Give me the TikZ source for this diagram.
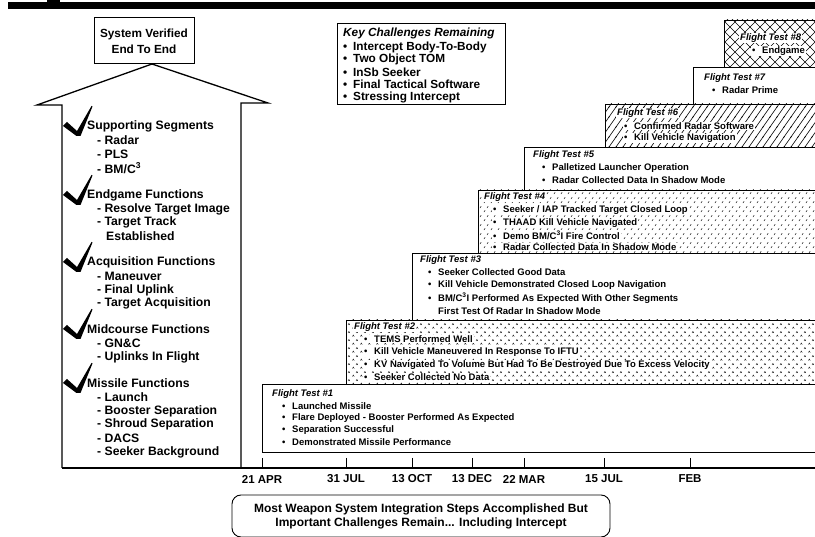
\documentclass[tikz,border=0pt]{standalone}
\usepackage{fontspec}
\setmainfont{Liberation Sans}
\usetikzlibrary{patterns}
\pgfdeclarepatternformonly{hatchsix}{\pgfqpoint{-1pt}{-1pt}}{\pgfqpoint{8pt}{11pt}}{\pgfqpoint{7pt}{10pt}}{%
  \pgfsetlinewidth{0.6pt}%
  \pgfpathmoveto{\pgfqpoint{-0.7pt}{-1pt}}\pgfpathlineto{\pgfqpoint{7.7pt}{11pt}}\pgfusepath{stroke}}
\pgfdeclarepatternformonly{xhatchten}{\pgfqpoint{-1pt}{-1pt}}{\pgfqpoint{11pt}{11pt}}{\pgfqpoint{10pt}{10pt}}{%
  \pgfsetlinewidth{0.6pt}%
  \pgfpathmoveto{\pgfqpoint{0pt}{0pt}}\pgfpathlineto{\pgfqpoint{10pt}{10pt}}%
  \pgfpathmoveto{\pgfqpoint{0pt}{10pt}}\pgfpathlineto{\pgfqpoint{10pt}{0pt}}\pgfusepath{stroke}}
\pgfdeclarepatternformonly{ticksix}{\pgfqpoint{0pt}{0pt}}{\pgfqpoint{7pt}{9pt}}{\pgfqpoint{7pt}{9pt}}{%
  \pgfsetlinewidth{0.5pt}%
  \pgfpathmoveto{\pgfqpoint{1pt}{1pt}}\pgfpathlineto{\pgfqpoint{2.4pt}{3pt}}%
  \pgfpathmoveto{\pgfqpoint{4.5pt}{5.5pt}}\pgfpathlineto{\pgfqpoint{5.9pt}{7.5pt}}\pgfusepath{stroke}}
\pgfdeclarepatternformonly{chevseven}{\pgfqpoint{0pt}{0pt}}{\pgfqpoint{8pt}{8pt}}{\pgfqpoint{8pt}{8pt}}{%
  \pgfsetlinewidth{0.45pt}%
  \pgfpathmoveto{\pgfqpoint{0.5pt}{0.5pt}}\pgfpathlineto{\pgfqpoint{1.5pt}{2.2pt}}\pgfpathlineto{\pgfqpoint{2.5pt}{0.5pt}}%
  \pgfpathmoveto{\pgfqpoint{4.5pt}{4.5pt}}\pgfpathlineto{\pgfqpoint{5.5pt}{6.2pt}}\pgfpathlineto{\pgfqpoint{6.5pt}{4.5pt}}\pgfusepath{stroke}}
\tikzset{
  lst/.style={anchor=west,inner sep=0pt,font=\fontsize{12.2}{13}\selectfont\bfseries},
  kc/.style={anchor=west,inner sep=0pt,font=\fontsize{11.8}{13}\selectfont\bfseries},
  kctitle/.style={anchor=west,inner sep=0pt,font=\fontsize{11.8}{13}\selectfont\bfseries\itshape},
  fttitle/.style={anchor=west,inner sep=1pt,font=\fontsize{9.5}{11}\selectfont\bfseries\itshape},
  ftitem/.style={anchor=west,inner sep=1pt,font=\fontsize{9.5}{11}\selectfont\bfseries},
  wbg/.style={fill=white},
  datelbl/.style={inner sep=0pt,font=\fontsize{11.5}{13}\selectfont\bfseries},
  ftbox/.style={draw=black,line width=0.9pt},
  arrowline/.style={line width=1.3pt,line join=miter},
  checkmark/.style={fill=black}
}
\newcommand{\bul}{\makebox[10pt][l]{\textbullet}}
\newcommand{\chk}[2]{\fill[checkmark] (#1-15,#2-10) -- (#1-11,#2-14) -- (#1-1,#2-5) -- (#1+13.5,#2-30) -- (#1+14.5,#2-29.5) -- (#1+2.5,#2) -- (#1-1.5,#2) -- cycle;}
\begin{document}
\begin{tikzpicture}[x=1pt,y=-1pt]
\useasboundingbox (0,0) rectangle (815,537);
\clip (0,0) rectangle (815,537);
% top bar
\fill (8,2) rectangle (815,9);
\fill (47,0) rectangle (60,3);
% flight test boxes
\draw[ftbox] (262,384) rectangle (820,452);
\draw[ftbox,pattern=chevseven] (346,320) rectangle (820,384);
\draw[ftbox] (412,253) rectangle (820,320);
\draw[ftbox,pattern=ticksix] (478,190) rectangle (820,253);
\draw[ftbox] (524,147) rectangle (820,190);
\draw[ftbox,pattern=hatchsix] (605,104) rectangle (820,147);
\draw[ftbox] (693,67) rectangle (820,104);
\draw[ftbox,pattern=xhatchten] (724,20) rectangle (820,67);
% FT1
\node[fttitle] (t1) at (271,394) {Flight Test \#1};
\node[ftitem] (t1a) at (281,406) {\bul Launched Missile};
\node[ftitem] (t1b) at (281,418) {\bul Flare Deployed - Booster Performed As Expected};
\node[ftitem] (t1c) at (281,430) {\bul Separation Successful};
\node[ftitem] (t1d) at (281,442) {\bul Demonstrated Missile Performance};
% FT2
\node[fttitle,wbg] (t2) at (353,327) {Flight Test \#2};
\node[ftitem,wbg] (t2a) at (363,339) {\bul TEMS Performed Well};
\node[ftitem,wbg] (t2b) at (363,352) {\bul Kill Vehicle Maneuvered In Response To IFTU};
\node[ftitem,wbg] (t2c) at (363,365) {\bul KV Navigated To Volume But Had To Be Destroyed Due To Excess Velocity};
\node[ftitem,wbg] (t2d) at (363,377) {\bul Seeker Collected No Data};
% FT3
\node[fttitle] (t3) at (419,260) {Flight Test \#3};
\node[ftitem] (t3a) at (427,272) {\bul Seeker Collected Good Data};
\node[ftitem] (t3b) at (427,285) {\bul Kill Vehicle Demonstrated Closed Loop Navigation};
\node[ftitem] (t3c) at (427,298) {\bul BM/C\textsuperscript{3}I Performed As Expected With Other Segments};
\node[ftitem] (t3d) at (437,311) {First Test Of Radar In Shadow Mode};
% FT4
\node[fttitle,wbg] (t4) at (483,197) {Flight Test \#4};
\node[ftitem,wbg] (t4a) at (492,210) {\bul Seeker / IAP Tracked Target Closed Loop};
\node[ftitem,wbg] (t4b) at (492,223) {\bul THAAD Kill Vehicle Navigated};
\node[ftitem,wbg] (t4c) at (492,235) {\bul Demo BM/C\textsuperscript{3}I Fire Control};
\node[ftitem,wbg] (t4d) at (492,247) {\bul Radar Collected Data In Shadow Mode};
% FT5
\node[fttitle] (t5) at (532,155) {Flight Test \#5};
\node[ftitem] (t5a) at (541,168) {\bul Palletized Launcher Operation};
\node[ftitem] (t5b) at (541,180) {\bul Radar Collected Data In Shadow Mode};
% FT6
\node[fttitle,wbg] (t6) at (616,113) {Flight Test \#6};
\node[ftitem,wbg] (t6a) at (623,126) {\bul Confirmed Radar Software};
\node[ftitem,wbg] (t6b) at (623,138) {\bul Kill Vehicle Navigation};
% FT7
\node[fttitle] (t7) at (703,78) {Flight Test \#7};
\node[ftitem] (t7a) at (711,90) {\bul Radar Prime};
% FT8
\node[fttitle,wbg] (t8) at (739,38) {Flight Test \#8};
\node[ftitem,wbg] (t8a) at (751,51) {\bul Endgame};
% arrow
\coordinate (aBL) at (62,468);
\coordinate (aL1) at (62,105);
\coordinate (aL2) at (37,105);
\coordinate (aTip) at (152,64);
\coordinate (aR2) at (268,103);
\coordinate (aR1) at (241,103);
\coordinate (aBR) at (241,468);
\coordinate (tEnd) at (815,468);
\draw[arrowline] (aBL) -- (aL1) -- (aL2) -- (aTip) -- (aR2) -- (aR1) -- (aBR);
\draw[arrowline] (aBL) -- (tEnd);
\node[draw,line width=1pt,fill=white,minimum width=100pt,minimum height=46pt,align=center,inner sep=0pt,font=\fontsize{11.8}{16}\selectfont\bfseries] (sys) at (144,41) {System Verified\\End To End};
% left list
\chk{78}{136}
\node[lst] (h1) at (87,126) {Supporting Segments};
\node[lst] (h1a) at (97,140) {- Radar};
\node[lst] (h1b) at (97,154) {- PLS};
\node[lst] (h1c) at (97,168) {- BM/C\textsuperscript{3}};
\chk{78}{205}
\node[lst] (h2) at (87,195) {Endgame Functions};
\node[lst] (h2a) at (97,209) {- Resolve Target Image};
\node[lst] (h2b) at (97,222) {- Target Track};
\node[lst] (h2c) at (106,236) {Established};
\chk{78}{272}
\node[lst] (h3) at (87,262) {Acquisition Functions};
\node[lst] (h3a) at (97,276) {- Maneuver};
\node[lst] (h3b) at (97,290) {- Final Uplink};
\node[lst] (h3c) at (97,303) {- Target Acquisition};
\chk{78}{339}
\node[lst] (h4) at (87,329) {Midcourse Functions};
\node[lst] (h4a) at (97,343) {- GN\&C};
\node[lst] (h4b) at (97,357) {- Uplinks In Flight};
\chk{78}{393}
\node[lst] (h5) at (87,383) {Missile Functions};
\node[lst] (h5a) at (97,397) {- Launch};
\node[lst] (h5b) at (97,411) {- Booster Separation};
\node[lst] (h5c) at (97,424) {- Shroud Separation};
\node[lst] (h5d) at (97,438) {- DACS};
\node[lst] (h5e) at (97,452) {- Seeker Background};
% key challenges
\draw[line width=0.9pt] (337,23) rectangle (505,104);
\node[kctitle] (kt) at (343,33) {Key Challenges Remaining};
\node[kc] (k1) at (343,47) {\bul Intercept Body-To-Body};
\node[kc] (k2) at (343,59.5) {\bul Two Object TOM};
\node[kc] (k3) at (343,72) {\bul InSb Seeker};
\node[kc] (k4) at (343,84.5) {\bul Final Tactical Software};
\node[kc] (k5) at (343,97) {\bul Stressing Intercept};
% timeline ticks and dates
\foreach \xx/\lab/\nm in {262/21 APR/d1,346/31 JUL/d2,412/13 OCT/d3,472/13 DEC/d4,524/22 MAR/d5,604/15 JUL/d6,690/FEB/d7}{
  \coordinate (\nm top) at (\xx,458);
  \coordinate (\nm bot) at (\xx,468);
  \draw[line width=0.9pt] (\nm top) -- (\nm bot);
  \node[datelbl] (\nm) at (\xx,479) {\lab};
}
% bottom box
\draw[line width=0.9pt,rounded corners=9pt] (232,495) rectangle (610,537);
\node[align=center,inner sep=0pt,font=\fontsize{12}{14}\selectfont\bfseries] (concl) at (421,516) {Most Weapon System Integration Steps Accomplished But\\Important Challenges Remain... Including Intercept};
\end{tikzpicture}
\end{document}
